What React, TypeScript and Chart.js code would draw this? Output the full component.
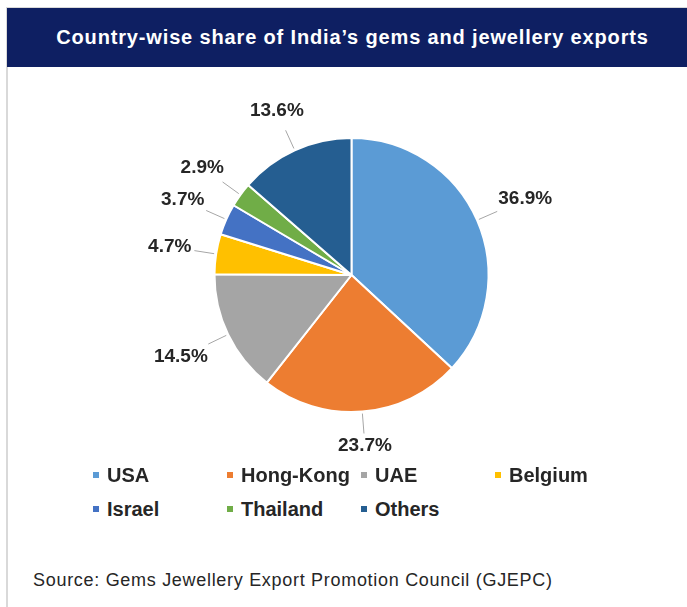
import React, { useEffect, useRef } from "react";
import { Chart, registerables } from "chart.js";

Chart.register(...registerables);

const TITLE = "Country-wise share of India’s gems and jewellery exports";
const SOURCE = "Source: Gems Jewellery Export Promotion Council (GJEPC)";
const categories = ["USA", "Hong-Kong", "UAE", "Belgium", "Israel", "Thailand", "Others"];
const shares = [36.9, 23.7, 14.5, 4.7, 3.7, 2.9, 13.6];
const colors = ["#5B9BD5", "#ED7D31", "#A5A5A5", "#FFC000", "#4472C4", "#70AD47", "#255E91"];

const FONT = "'Liberation Sans', Arial, sans-serif";

const outsideLabels = {
  id: "outsideLabels",
  afterDatasetsDraw(chart: any) {
    const ctx = chart.ctx;
    const meta = chart.getDatasetMeta(0);
    const data = chart.data.datasets[0].data as number[];
    ctx.save();
    ctx.font = `bold 19px ${FONT}`;
    ctx.textAlign = "center";
    ctx.textBaseline = "middle";
    meta.data.forEach((arc: any, i: number) => {
      const { x, y, startAngle, endAngle, outerRadius } = arc.getProps(
        ["x", "y", "startAngle", "endAngle", "outerRadius"],
        true
      );
      const mid = (startAngle + endAngle) / 2;
      const dx = Math.cos(mid);
      const dy = Math.sin(mid);
      const text = data[i].toFixed(1) + "%";
      const w = ctx.measureText(text).width + 4;
      const h = 20;
      const d = 22;
      const ext = Math.abs(dx) * (w / 2) + Math.abs(dy) * (h / 2);
      const ex = x + outerRadius * dx;
      const ey = y + outerRadius * dy;
      const px = x + (outerRadius + d) * dx;
      const py = y + (outerRadius + d) * dy;
      const cx = px + ext * dx;
      const cy = py + ext * dy;
      ctx.strokeStyle = "#A6A6A6";
      ctx.lineWidth = 1;
      ctx.beginPath();
      ctx.moveTo(ex + 2 * dx, ey + 2 * dy);
      ctx.lineTo(px, py);
      ctx.stroke();
      ctx.fillStyle = "#262626";
      ctx.fillText(text, cx, cy);
    });
    ctx.restore();
  },
};

export default function App() {
  const ref = useRef<HTMLCanvasElement>(null);
  useEffect(() => {
    if (!ref.current) return;
    const chart = new Chart(ref.current, {
      type: "pie",
      data: {
        labels: categories,
        datasets: [
          {
            data: shares,
            backgroundColor: colors,
            borderColor: "#FFFFFF",
            borderWidth: 2,
          },
        ],
      },
      options: {
        responsive: false,
        animation: false,
        devicePixelRatio: 1,
        layout: { padding: { top: 70, bottom: 54, left: 9, right: 0 } },
        plugins: {
          legend: { display: false },
          tooltip: { enabled: false },
        },
      },
      plugins: [outsideLabels],
    });
    return () => chart.destroy();
  }, []);

  const colLeft = [93, 227, 361, 495];
  const rowMid = [475, 509];

  return (
    <div
      style={{
        position: "absolute",
        left: 0,
        top: 0,
        width: 687,
        height: 607,
        background: "#FFFFFF",
        overflow: "hidden",
        fontFamily: FONT,
      }}
    >
      <div
        style={{
          position: "absolute",
          left: 6,
          top: 7,
          width: 2,
          height: 600,
          background: "#D9D9D9",
        }}
      />
      <div
        style={{
          position: "absolute",
          left: 6,
          top: 7,
          width: 681,
          height: 1,
          background: "#D9D9D9",
        }}
      />
      <div
        style={{
          position: "absolute",
          left: 7,
          top: 8,
          width: 680,
          height: 59,
          background: "#0E1F62",
          color: "#FFFFFF",
          fontWeight: "bold",
          fontSize: 20,
          letterSpacing: "0.85px",
          lineHeight: "59px",
          textAlign: "center",
          boxSizing: "border-box",
          paddingLeft: 11,
          whiteSpace: "nowrap",
        }}
      >
        {TITLE}
      </div>
      <canvas
        ref={ref}
        width={680}
        height={400}
        style={{ position: "absolute", left: 7, top: 67, width: 680, height: 400 }}
      />
      {categories.map((c, i) => (
        <div
          key={c}
          style={{
            position: "absolute",
            left: colLeft[i % 4],
            top: rowMid[Math.floor(i / 4)] - 12,
            height: 24,
            display: "flex",
            alignItems: "center",
            fontWeight: "bold",
            fontSize: 20,
            color: "#262626",
            whiteSpace: "nowrap",
          }}
        >
          <span
            style={{ display: "inline-block", width: 6, height: 6, background: colors[i], marginRight: 8 }}
          />
          {c}
        </div>
      ))}
      <div
        style={{
          position: "absolute",
          left: 33,
          top: 568,
          fontSize: 18,
          letterSpacing: "0.7px",
          color: "#262626",
          whiteSpace: "nowrap",
          lineHeight: "24px",
        }}
      >
        {SOURCE}
      </div>
    </div>
  );
}
